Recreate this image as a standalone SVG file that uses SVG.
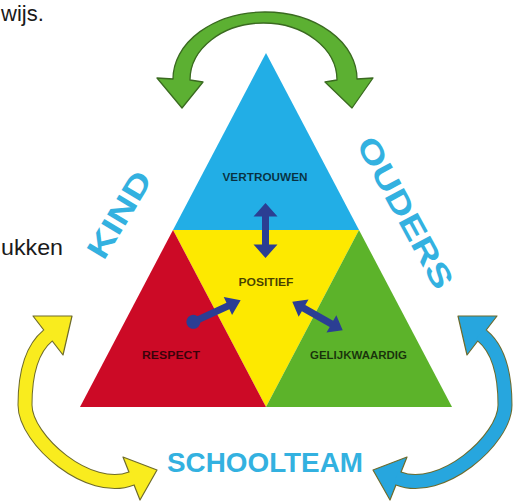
<svg xmlns="http://www.w3.org/2000/svg" width="514" height="501" viewBox="0 0 514 501">
  <style>
    .page { font-family: "Liberation Sans", Arial, sans-serif; font-size: 22px; fill: #1a1a1a; }
    .big { font-family: "Liberation Sans", Arial, sans-serif; font-weight: bold; fill: #33b1e0; text-anchor: middle; }
    .lbl { font-family: "Liberation Sans", Arial, sans-serif; font-weight: bold; font-size: 11px; fill: #000; fill-opacity: 0.72; text-anchor: middle; }
    .navy { fill: #2b3e93; }
  </style>
  <defs>
    <g id="curl">
      <path d="M48 335.5 C28.6 351.3 25 380 25 405 C25 440 89.6 495.2 131.5 478.5" fill="none" stroke="#6e6b2c" stroke-width="15"/>
      <polygon points="33,316 72,316 63,355" stroke="#6e6b2c" stroke-width="1.2" stroke-linejoin="round"/>
      <polygon points="123,457 157,470 140,500" stroke="#6e6b2c" stroke-width="1.2" stroke-linejoin="round"/>
      <path d="M50 334 L48 335.5 C28.6 351.3 25 380 25 405 C25 440 89.6 495.2 131.5 478.5 L134 477.5" fill="none" stroke-width="13"/>
    </g>
  </defs>
  <rect width="514" height="501" fill="#ffffff"/>

  <text class="page" x="1" y="21">wijs.</text>
  <text class="page" x="1" y="255" textLength="62" lengthAdjust="spacingAndGlyphs">ukken</text>

  <g id="node-vertrouwen">
    <polygon points="266,53 173,230 359,230" fill="#22aee6"/>
    <text class="lbl" x="265" y="181" textLength="85" lengthAdjust="spacingAndGlyphs">VERTROUWEN</text>
  </g>
  <g id="node-positief">
    <polygon points="173,230 359,230 266,407" fill="#fde900"/>
    <text class="lbl" x="266" y="286" textLength="55" lengthAdjust="spacingAndGlyphs">POSITIEF</text>
  </g>
  <g id="node-respect">
    <polygon points="173,230 266,407 80,407" fill="#cc0a26"/>
    <text class="lbl" x="171" y="359" textLength="58" lengthAdjust="spacingAndGlyphs">RESPECT</text>
  </g>
  <g id="node-gelijkwaardig">
    <polygon points="359,230 452,407 266,407" fill="#5cb32a"/>
    <text class="lbl" x="358.5" y="359" textLength="97" lengthAdjust="spacingAndGlyphs">GELIJKWAARDIG</text>
  </g>

  <g id="node-kind">
    <text class="big" font-size="31" transform="translate(119,214.5) rotate(-59)" x="0" y="11" textLength="96" lengthAdjust="spacingAndGlyphs">KIND</text>
  </g>
  <g id="node-ouders">
    <text class="big" font-size="31" transform="translate(405.5,212.5) rotate(61.5)" x="0" y="11" textLength="168" lengthAdjust="spacingAndGlyphs">OUDERS</text>
  </g>
  <g id="node-schoolteam">
    <text class="big" font-size="27" x="265" y="472" textLength="196" lengthAdjust="spacingAndGlyphs">SCHOOLTEAM</text>
  </g>

  <g id="connectors">
    <path d="M157 78 L173 79 A92 67 0 0 1 357 79 L373 78 L352 108 L325 82 L337 80 A73.5 57 0 0 0 190 80 L203 82 L182 108 Z" fill="#5cb032" stroke="#3a6a20" stroke-width="1.3" stroke-linejoin="round"/>
    <use href="#curl" fill="#f9ec1e" stroke="#f9ec1e"/>
    <use href="#curl" fill="#27a6de" stroke="#27a6de" transform="translate(530,0) scale(-1,1)"/>
    <path class="navy" transform="translate(265.5,230.5) rotate(90)" d="M-27.5 0 L-14 -12 L-14 -3.5 L14 -3.5 L14 -12 L27.5 0 L14 12 L14 3.5 L-14 3.5 L-14 12 Z"/>
    <path class="navy" transform="translate(317.5,316) rotate(29.6)" d="M-29 0 L-16 -10 L-16 -3.5 L16 -3.5 L16 -10 L29 0 L16 10 L16 3.5 L-16 3.5 L-16 10 Z"/>
    <g class="navy" transform="translate(217,311) rotate(-24.6)">
      <path d="M-26 -3.5 L12 -3.5 L12 -10 L26 0 L12 10 L12 3.5 L-26 3.5 Z"/>
      <circle cx="-26" cy="0" r="7"/>
    </g>
  </g>
</svg>
